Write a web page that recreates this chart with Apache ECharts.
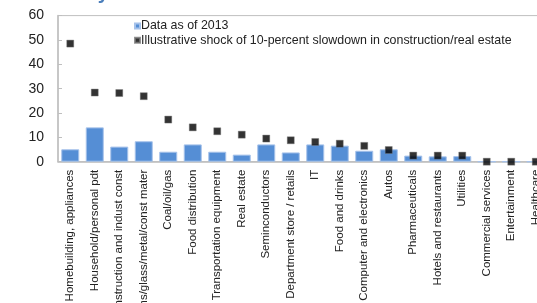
<!DOCTYPE html>
<html>
<head>
<meta charset="utf-8">
<script src="https://cdn.jsdelivr.net/npm/echarts@6/dist/echarts.min.js"></script>
<style>html,body{margin:0;padding:0;background:#fff;}#c{width:537px;height:303px;}</style>
</head>
<body>
<div id="c"></div>
<script>
var categories = ["Homebuilding, appliances","Household/personal pdt","Construction and indust const","Chems/glass/metal/const mater","Coal/oil/gas","Food distribution","Transportation equipment","Real estate","Seminconductors","Department store / retails","IT","Food and drinks","Computer and electronics","Autos","Pharmaceuticals","Hotels and restaurants","Utilities","Commercial services","Entertainment","Healthcare"];
var data2013 = [5.1, 14.1, 6.2, 8.4, 4.1, 7.1, 4.1, 2.9, 7.1, 3.8, 7.1, 6.6, 4.5, 5.1, 2.5, 2.2, 2.3, 0, 0, 0];
var shock = [48.5, 28.4, 28.2, 26.9, 17.3, 14.1, 12.5, 11.1, 9.5, 8.8, 8.1, 7.4, 6.5, 4.8, 2.5, 2.5, 2.5, 0, 0, 0];
var seriesNames = ["Data as of 2013", "Illustrative shock of 10-percent slowdown in construction/real estate"];
var yTicks = {min: 0, max: 60, interval: 10};

var chart = echarts.init(document.getElementById('c'), null, {renderer: 'canvas'});
chart.setOption({
  animation: false,
  backgroundColor: '#fff',
  title: {
    text: '{a|industry} {b|(in percent)}',
    left: 25,
    top: -22,
    textStyle: {
      rich: {
        a: {fontSize: 20, fontWeight: 'bold', color: '#4A7EBB', fontFamily: 'Liberation Sans'},
        b: {fontSize: 13, color: '#6A9AD4', fontFamily: 'Liberation Sans'}
      }
    }
  },
  legend: {
    orient: 'vertical',
    left: 134,
    top: 20,
    padding: 0,
    icon: 'rect',
    itemWidth: 5,
    itemHeight: 5,
    itemGap: 2.3,
    textStyle: {fontSize: 12.4, color: '#222', lineHeight: 12, fontFamily: 'Liberation Sans', padding: [0, 0, 0, -4]},
    data: seriesNames
  },
  grid: {
    left: 58, top: 15.6, right: -11, bottom: 141.3,
    show: true, borderColor: '#BFBFBF', borderWidth: 1, containLabel: false,
    outerBoundsMode: 'none'
  },
  xAxis: {
    type: 'category',
    data: categories,
    axisLine: {lineStyle: {color: '#BFBFBF', width: 1.5}},
    axisTick: {show: false},
    axisLabel: {rotate: 90, interval: 0, fontSize: 11.5, color: '#222', margin: 8, fontFamily: 'Liberation Sans'}
  },
  yAxis: {
    type: 'value',
    min: yTicks.min, max: yTicks.max, interval: yTicks.interval,
    axisLine: {show: true, lineStyle: {color: '#BFBFBF', width: 1.5}},
    axisTick: {show: true, inside: true, length: 4, lineStyle: {color: '#BFBFBF'}},
    splitLine: {show: false},
    axisLabel: {fontSize: 14, color: '#222', margin: 14, fontFamily: 'Liberation Sans'}
  },
  series: [
    {
      name: seriesNames[0],
      type: 'bar',
      data: data2013,
      barWidth: 18,
      itemStyle: {color: '#558ED5', borderColor: '#A6C2EA', borderWidth: 1}
    },
    {
      name: seriesNames[1],
      type: 'scatter',
      data: shock,
      symbol: 'rect',
      symbolSize: 7,
      z: 5,
      itemStyle: {color: '#000', borderColor: '#777', borderWidth: 0.5}
    }
  ]
});
</script>
</body>
</html>
